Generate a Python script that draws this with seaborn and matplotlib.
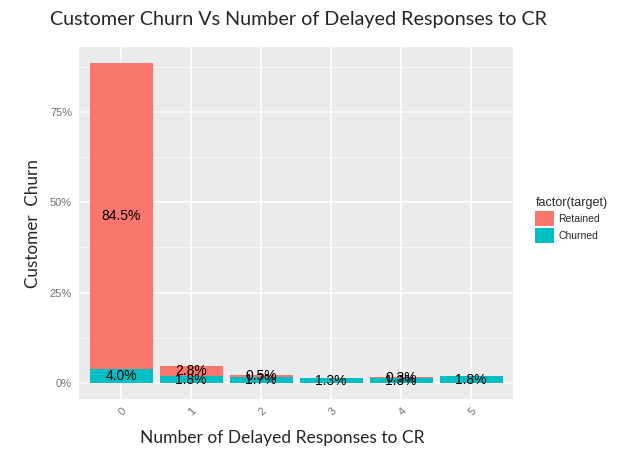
import numpy as np
import pandas as pd
import matplotlib
matplotlib.use("Agg")
import matplotlib.pyplot as plt
import seaborn as sns
from matplotlib.patches import Patch
from matplotlib.ticker import MultipleLocator, FuncFormatter

# data (percent of all customers)
delays = ["0", "1", "2", "3", "4", "5"]
retained = [84.5, 2.8, 0.5, 0.0, 0.3, 0.0]
churned = [4.0, 1.8, 1.7, 1.3, 1.3, 1.8]
groups = ["Retained", "Churned"]

red = "#F8766D"
teal = "#00BFC4"

df = pd.DataFrame({"delay": delays, "retained": retained, "churned": churned})
df["total"] = df["retained"] + df["churned"]

sns.set_style("darkgrid", {"axes.facecolor": "#EBEBEB", "grid.color": "white"})

fig = plt.figure(figsize=(6.23, 4.66), dpi=100)
ax = fig.add_axes([79 / 623, 67 / 466, 434 / 623, 352 / 466])

sns.barplot(data=df, x="delay", y="total", color=red, saturation=1, width=0.9,
            linewidth=0, ax=ax)
sns.barplot(data=df, x="delay", y="churned", color=teal, saturation=1, width=0.9,
            linewidth=0, ax=ax)

# labels in the middle of each stacked piece
for i, row in df.iterrows():
    ax.text(i, row["churned"] / 2, f"{row['churned']:.1f}%", ha="center", va="center",
            fontsize=10, family="Liberation Sans", color="black")
    if row["retained"] > 0:
        ax.text(i, row["churned"] + row["retained"] / 2, f"{row['retained']:.1f}%",
                ha="center", va="center", fontsize=10, family="Liberation Sans", color="black")

top = df["total"].max()
ax.set_xlim(-0.6, 5.6)
ax.set_ylim(-0.05 * top, top * 1.05)
ax.yaxis.set_major_locator(MultipleLocator(25))
ax.yaxis.set_minor_locator(MultipleLocator(12.5))
ax.yaxis.set_major_formatter(FuncFormatter(lambda v, p: f"{v:.0f}%"))
ax.grid(True, which="major", color="white", linewidth=1.1)
ax.grid(True, which="minor", axis="y", color="white", linewidth=0.5)
ax.set_axisbelow(True)
for s in ax.spines.values():
    s.set_visible(False)

ax.tick_params(axis="both", which="major", length=3, color="#444444", labelsize=8,
               labelcolor="#707070", pad=2)
ax.tick_params(axis="both", which="minor", length=0)
for lab in ax.get_xticklabels():
    lab.set_rotation(45)
    lab.set_ha("right")
    lab.set_rotation_mode("anchor")
    lab.set_family("Liberation Sans")
for lab in ax.get_yticklabels():
    lab.set_family("Liberation Sans")

ax.set_xlabel("")
ax.set_ylabel("")
fig.text(282 / 623, 1 - 438 / 466, "Number of Delayed Responses to CR", ha="center",
         va="center", fontsize=12.5, family="Lato")
fig.text(33 / 623, 1 - 224 / 466, "Customer  Churn", ha="center", va="center",
         rotation=90, fontsize=12.3, family="Lato")
fig.text(298 / 623, 1 - 19 / 466, "Customer Churn Vs Number of Delayed Responses to CR",
         ha="center", va="center", fontsize=14.2, family="Lato")

handles = [Patch(facecolor=red, edgecolor="none"), Patch(facecolor=teal, edgecolor="none")]
leg = fig.legend(handles, groups, title="factor(target)", loc="upper left",
                 bbox_to_anchor=(526 / 623, 1 - 188 / 466), frameon=False,
                 prop={"family": "Liberation Sans", "size": 7.5},
                 title_fontproperties={"family": "Liberation Sans", "size": 9},
                 handlelength=1.8, handleheight=1.8, handletextpad=0.4, labelspacing=0.2)
leg._legend_box.align = "left"

fig.savefig("out.png", dpi=100)
